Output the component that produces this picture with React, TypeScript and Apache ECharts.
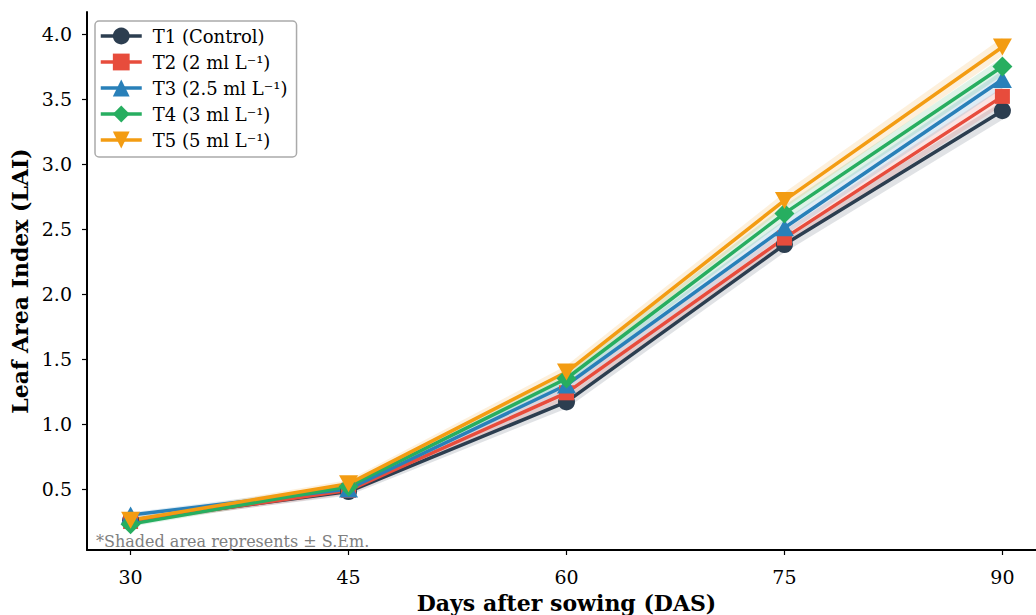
import React, { useEffect, useRef } from "react";
import * as echarts from "echarts";

const days = [30, 45, 60, 75, 90];
const seriesNames = ["T1 (Control)", "T2 (2 ml L⁻¹)", "T3 (2.5 ml L⁻¹)", "T4 (3 ml L⁻¹)", "T5 (5 ml L⁻¹)"];
const t1 = [0.26, 0.48, 1.17, 2.38, 3.41];
const t2 = [0.25, 0.49, 1.24, 2.43, 3.52];
const t3 = [0.3, 0.5, 1.3, 2.51, 3.65];
const t4 = [0.23, 0.52, 1.35, 2.62, 3.75];
const t5 = [0.26, 0.54, 1.4, 2.72, 3.9];
const sem1 = [0.02, 0.03, 0.05, 0.06, 0.07];
const sem2 = [0.02, 0.03, 0.05, 0.06, 0.07];
const sem3 = [0.02, 0.03, 0.05, 0.06, 0.07];
const sem4 = [0.02, 0.03, 0.05, 0.06, 0.07];
const sem5 = [0.02, 0.03, 0.05, 0.06, 0.07];
const yTicks = [0.5, 1.0, 1.5, 2.0, 2.5, 3.0, 3.5, 4.0];
const xTicks = [30, 45, 60, 75, 90];

const values = [t1, t2, t3, t4, t5];
const sems = [sem1, sem2, sem3, sem4, sem5];
const colors = ["#2c3e50", "#e74c3c", "#2980b9", "#27ae60", "#f39c12"];
const symbols = ["circle", "rect", "triangle", "diamond", "path://M0,0L20,0L10,17Z"];
const symbolSizes = [17, 15, [19, 17], 20, [19, 17]];
const FONT = "DejaVu Serif";

function hexA(hex: string, a: number) {
  const n = parseInt(hex.slice(1), 16);
  return `rgba(${(n >> 16) & 255},${(n >> 8) & 255},${n & 255},${a})`;
}

export default function App() {
  const ref = useRef<HTMLDivElement>(null);
  useEffect(() => {
    if (!ref.current) return;
    const chart = echarts.init(ref.current, undefined, { renderer: "svg" });
    const bandSeries = values.map((vals, s) => ({
      type: "custom",
      name: "band" + s,
      z: 1,
      silent: true,
      data: days.map((d, i) => [d, vals[i] - sems[s][i], vals[i] + sems[s][i]]),
      encode: { x: 0, y: [1, 2] },
      renderItem: (params: any, api: any) => {
        if (params.dataIndex !== 0) return { type: "group", children: [] };
        const top = days.map((d, i) => api.coord([d, vals[i] + sems[s][i]]));
        const bot = days.map((d, i) => api.coord([d, vals[i] - sems[s][i]])).reverse();
        return {
          type: "polygon",
          shape: { points: top.concat(bot) },
          style: { fill: hexA(colors[s], 0.15), stroke: "none" },
        };
      },
    }));
    const lineSeries = values.map((vals, s) => ({
      type: "line",
      name: seriesNames[s],
      z: 3,
      data: days.map((d, i) => [d, vals[i]]),
      symbol: symbols[s],
      symbolSize: symbolSizes[s],
      showAllSymbol: true,
      lineStyle: { color: colors[s], width: 3.5 },
      itemStyle: { color: colors[s], opacity: 1 },
      emphasis: { disabled: true },
    }));
    chart.setOption({
      animation: false,
      grid: { left: 87, top: 12, width: 959, height: 538, containLabel: false, outerBoundsMode: "none" },
      xAxis: {
        type: "value",
        min: 27,
        max: 93,
        name: "Days after sowing (DAS)",
        nameLocation: "middle",
        nameGap: 39,
        nameTextStyle: { fontFamily: FONT, fontSize: 22, fontWeight: "bold", color: "#000", lineHeight: 24 },
        axisLine: { show: true, lineStyle: { color: "#000", width: 2 } },
        axisTick: { show: true, length: 5, lineStyle: { color: "#000", width: 1.2 }, customValues: xTicks },
        axisLabel: {
          fontFamily: FONT,
          fontSize: 19,
          color: "#000",
          margin: 17,
          customValues: xTicks,
          formatter: (v: number) => String(v),
        },
        splitLine: { show: false },
      },
      yAxis: {
        type: "value",
        min: 0.031,
        max: 4.169,
        name: "Leaf Area Index (LAI)",
        nameLocation: "middle",
        nameRotate: 90,
        nameGap: 56,
        nameTextStyle: { fontFamily: FONT, fontSize: 22, fontWeight: "bold", color: "#000" },
        axisLine: { show: true, lineStyle: { color: "#000", width: 2 } },
        axisTick: { show: true, length: 5, lineStyle: { color: "#000", width: 1.2 }, customValues: yTicks },
        axisLabel: {
          fontFamily: FONT,
          fontSize: 19,
          color: "#000",
          margin: 15,
          customValues: yTicks,
          formatter: (v: number) => v.toFixed(1),
        },
        splitLine: { show: false },
      },
      legend: {
        data: seriesNames,
        orient: "vertical",
        left: 95,
        top: 21,
        padding: [6, 9, 8, 4],
        itemWidth: 41,
        itemHeight: 21,
        itemGap: 8,
        backgroundColor: "rgba(255,255,255,0.85)",
        borderColor: "#aaaaaa",
        borderWidth: 1.5,
        borderRadius: 4,
        lineStyle: { width: 3.5 },
        textStyle: { fontFamily: FONT, fontSize: 18, color: "#000", padding: [0, 0, 0, 6] },
        selectedMode: false,
      },
      graphic: [
        {
          type: "text",
          left: 96,
          top: 533,
          z: 10,
          style: {
            text: "*Shaded area represents ± S.Em.",
            fontFamily: FONT,
            fontSize: 16,
            fill: "#808080",
          },
        },
      ],
      series: [...bandSeries, ...lineSeries],
    });
    return () => chart.dispose();
  }, []);
  return (
    <div
      ref={ref}
      style={{ position: "fixed", left: 0, top: 0, width: 1036, height: 615, background: "#fff" }}
    />
  );
}
